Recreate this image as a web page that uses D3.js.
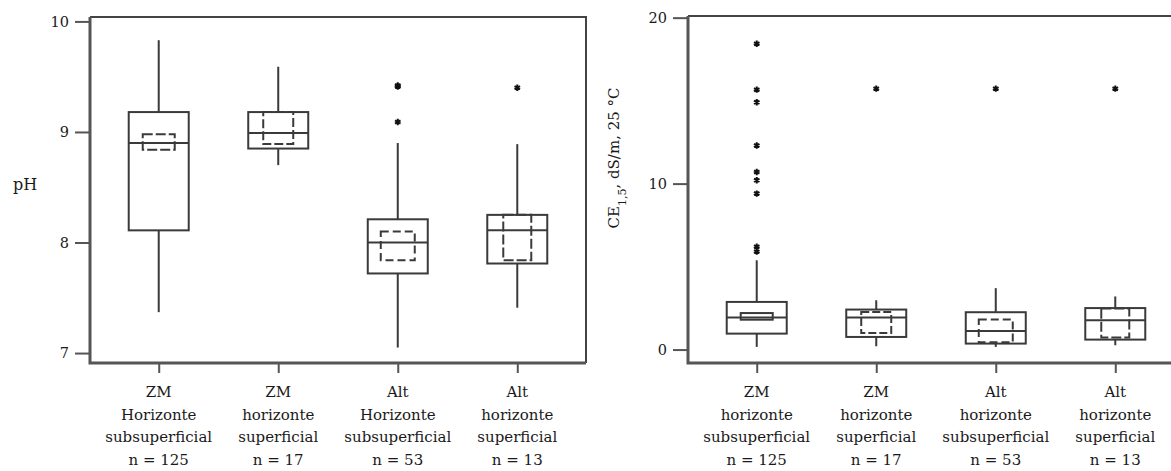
<!DOCTYPE html>
<html>
<head>
<meta charset="utf-8">
<script src="https://cdn.jsdelivr.net/npm/d3@7"></script>
<style>
  html, body { margin: 0; padding: 0; background: #fff; }
  svg { display: block; }
  text { font-family: "DejaVu Serif", "Liberation Serif", serif; fill: #1a1a1a; }
</style>
</head>
<body>
<svg id="chart" width="1171" height="471"></svg>
<script>
// Group labels (one line per array entry)
const categoriesPH = [
  ["ZM", "Horizonte", "subsuperficial", "n = 125"],
  ["ZM", "horizonte", "superficial", "n = 17"],
  ["Alt", "Horizonte", "subsuperficial", "n = 53"],
  ["Alt", "horizonte", "superficial", "n = 13"]
];
const categoriesCE = [
  ["ZM", "horizonte", "subsuperficial", "n = 125"],
  ["ZM", "horizonte", "superficial", "n = 17"],
  ["Alt", "horizonte", "subsuperficial", "n = 53"],
  ["Alt", "horizonte", "superficial", "n = 13"]
];

// pH summaries
const phWhiskerLow  = [7.37, 8.70, 7.05, 7.41];
const phQ1          = [8.11, 8.85, 7.72, 7.81];
const phMedian      = [8.90, 8.99, 8.00, 8.11];
const phQ3          = [9.18, 9.18, 8.21, 8.25];
const phWhiskerHigh = [9.83, 9.59, 8.90, 8.89];
const phCiLow       = [8.84, 8.89, 7.84, 7.84];
const phCiHigh      = [8.98, 9.18, 8.10, 8.25];
const phOutliers    = [[], [], [9.42, 9.41, 9.09], [9.40]];
const phTicks       = [7, 8, 9, 10];

// CE 1:5 summaries (dS/m, 25 °C)
const ceWhiskerLow  = [0.16, 0.20, 0.16, 0.26];
const ceQ1          = [0.96, 0.76, 0.36, 0.60];
const ceMedian      = [1.93, 1.93, 1.12, 1.77];
const ceQ3          = [2.87, 2.41, 2.25, 2.50];
const ceWhiskerHigh = [5.38, 2.97, 3.70, 3.20];
const ceCiLow       = [1.80, 1.00, 0.44, 0.72];
const ceCiHigh      = [2.20, 2.27, 1.81, 2.47];
const ceOutliers    = [[18.43, 15.66, 14.90, 12.30, 10.70, 10.20, 9.40, 6.20, 5.90], [15.72], [15.72], [15.72]];
const ceTicks       = [0, 10, 20];

const svg = d3.select("#chart");
const lineColor = "#3a3a3a";
const axisColor = "#555";

function drawPanel(opt) {
  const g = svg.append("g");
  const x = d3.scalePoint()
    .domain(d3.range(opt.categories.length))
    .range([opt.left, opt.left + opt.width])
    .padding(0.575);
  const y = d3.scaleLinear().domain(opt.domain).range([opt.bottom, opt.top]);

  // frame (top and right edges)
  g.append("path")
    .attr("d", `M${opt.left},${opt.top}H${opt.left + opt.width}V${opt.bottom}`)
    .attr("fill", "none").attr("stroke", "#444").attr("stroke-width", 2);

  // y axis
  const yAxis = g.append("g")
    .attr("transform", `translate(${opt.left},0)`)
    .call(d3.axisLeft(y).tickValues(opt.ticks).tickSize(15).tickPadding(6).tickFormat(d3.format("d")));
  yAxis.select(".domain").remove();
  yAxis.selectAll(".tick line").attr("stroke", axisColor).attr("stroke-width", 2);
  yAxis.selectAll(".tick text").style("font-size", "14.5px").style("font-family", "DejaVu Serif, serif").attr("fill", "#1a1a1a");

  // x axis
  const xAxis = g.append("g")
    .attr("transform", `translate(0,${opt.bottom})`)
    .call(d3.axisBottom(x).tickSize(10).tickFormat(""));
  xAxis.select(".domain").remove();
  xAxis.selectAll(".tick line").attr("stroke", axisColor).attr("stroke-width", 2);

  // axis lines (left and bottom)
  g.append("path")
    .attr("d", `M${opt.left},${opt.top}V${opt.bottom}H${opt.left + opt.width}`)
    .attr("fill", "none").attr("stroke", axisColor).attr("stroke-width", 3);

  // multi-line category labels
  opt.categories.forEach((lines, i) => {
    const t = g.append("text")
      .attr("x", x(i)).attr("y", opt.bottom + 34)
      .attr("text-anchor", "middle")
      .style("font-size", "15px");
    lines.forEach((ln, j) => {
      t.append("tspan").attr("x", x(i)).attr("dy", j === 0 ? 0 : 22.5).text(ln);
    });
  });

  const hw = 30;
  const boxes = g.append("g");
  opt.categories.forEach((_, i) => {
    const cx = x(i);
    const b = boxes.append("g");
    // whiskers
    b.append("line").attr("x1", cx).attr("x2", cx)
      .attr("y1", y(opt.q3[i])).attr("y2", y(opt.whiskerHigh[i]))
      .attr("stroke", lineColor).attr("stroke-width", 2);
    b.append("line").attr("x1", cx).attr("x2", cx)
      .attr("y1", y(opt.q1[i])).attr("y2", y(opt.whiskerLow[i]))
      .attr("stroke", lineColor).attr("stroke-width", 2);
    // interquartile box
    b.append("rect")
      .attr("x", cx - hw).attr("width", 2 * hw)
      .attr("y", y(opt.q3[i])).attr("height", y(opt.q1[i]) - y(opt.q3[i]))
      .attr("fill", "#fff").attr("stroke", lineColor).attr("stroke-width", 2);
    // median confidence interval box
    const ciW = opt.ciHalf[i];
    b.append("rect")
      .attr("x", cx - ciW).attr("width", 2 * ciW)
      .attr("y", y(opt.ciHigh[i])).attr("height", Math.max(2, y(opt.ciLow[i]) - y(opt.ciHigh[i])))
      .attr("fill", "none").attr("stroke", lineColor).attr("stroke-width", 2)
      .attr("stroke-dasharray", opt.ciDash[i]);
    // median line
    b.append("line")
      .attr("x1", cx - hw).attr("x2", cx + hw)
      .attr("y1", y(opt.median[i])).attr("y2", y(opt.median[i]))
      .attr("stroke", lineColor).attr("stroke-width", 2);
    // outliers
    b.selectAll(".out").data(opt.outliers[i]).join("path")
      .attr("class", "out")
      .attr("transform", d => `translate(${cx},${y(d)})`)
      .attr("d", d3.symbol(d3.symbolAsterisk, 28))
      .attr("fill", "none").attr("stroke", "#111").attr("stroke-width", 2);
  });
  return { g, x, y };
}

// pH panel
const left = drawPanel({
  left: 90, width: 496, top: 17, bottom: 363,
  domain: [6.91, 10.04],
  ticks: phTicks,
  categories: categoriesPH,
  q1: phQ1, median: phMedian, q3: phQ3,
  whiskerLow: phWhiskerLow, whiskerHigh: phWhiskerHigh,
  ciLow: phCiLow, ciHigh: phCiHigh,
  ciHalf: [16, 15, 17, 14],
  ciDash: ["10,3", "9,3", "8,4", "10,3"],
  outliers: phOutliers
});
left.g.append("text")
  .attr("x", 25).attr("y", 190)
  .attr("text-anchor", "middle")
  .style("font-size", "16px")
  .text("pH");

// CE panel
const right = drawPanel({
  left: 688, width: 496, top: 16, bottom: 363,
  domain: [-0.81, 20.1],
  ticks: ceTicks,
  categories: categoriesCE,
  q1: ceQ1, median: ceMedian, q3: ceQ3,
  whiskerLow: ceWhiskerLow, whiskerHigh: ceWhiskerHigh,
  ciLow: ceCiLow, ciHigh: ceCiHigh,
  ciHalf: [16, 15, 17, 14],
  ciDash: ["none", "8,3", "8,4", "10,3"],
  outliers: ceOutliers
});
const yl = right.g.append("text")
  .attr("transform", "translate(619,158) rotate(-90)")
  .attr("text-anchor", "middle")
  .style("font-size", "15px");
yl.append("tspan").text("CE");
yl.append("tspan").attr("baseline-shift", "sub").style("font-size", "11px").text("1,5");
yl.append("tspan").text(", dS/m, 25 °C");
</script>
</body>
</html>
